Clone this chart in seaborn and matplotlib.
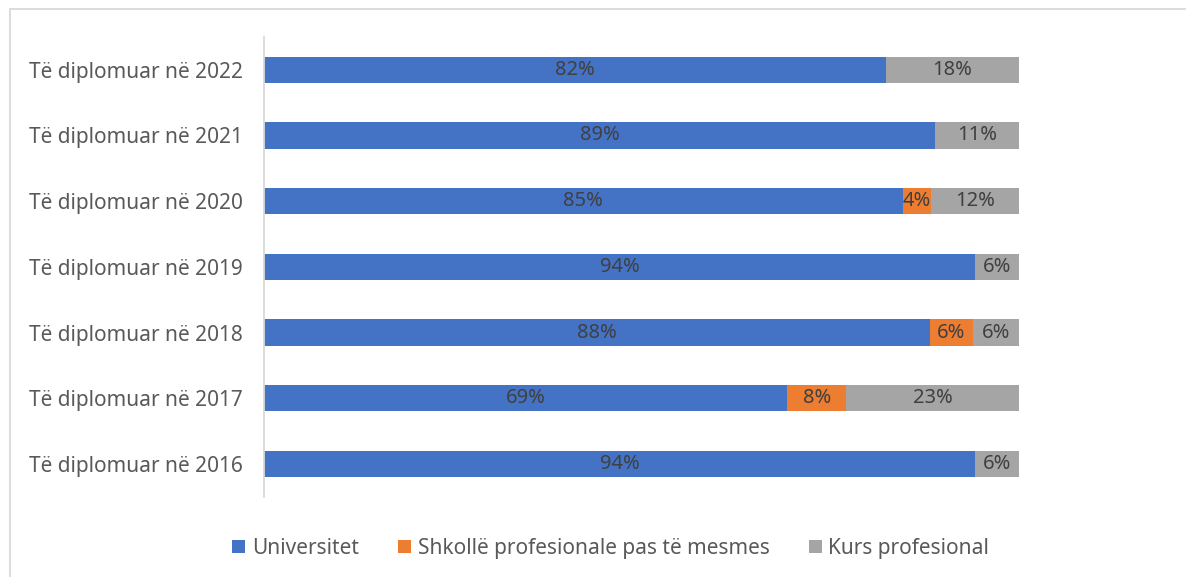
import numpy as np
import pandas as pd
import matplotlib
matplotlib.use('Agg')
import matplotlib.pyplot as plt
import seaborn as sns
from matplotlib.patches import Rectangle, Patch

# values (share of graduates, %)
years = ['Të diplomuar në 2022', 'Të diplomuar në 2021', 'Të diplomuar në 2020',
         'Të diplomuar në 2019', 'Të diplomuar në 2018', 'Të diplomuar në 2017',
         'Të diplomuar në 2016']
universitet = [82.4, 88.9, 84.6, 94.2, 88.2, 69.3, 94.2]
shkolle = [0, 0, 3.8, 0, 5.7, 7.8, 0]
kurs = [17.6, 11.1, 11.6, 5.8, 6.1, 22.9, 5.8]
series_names = ['Universitet', 'Shkollë profesionale pas të mesmes', 'Kurs profesional']

colors = ['#4472C4', '#ED7D31', '#A5A5A5']

sns.set_style('white')
plt.rcParams['font.family'] = ['Noto Sans', 'DejaVu Sans']

df = pd.DataFrame({'year': years, 'u': universitet, 's': shkolle, 'k': kurs})
df['c1'] = df['u']
df['c2'] = df['u'] + df['s']
df['c3'] = df['u'] + df['s'] + df['k']

fig = plt.figure(figsize=(11.86, 5.77), dpi=100)
ax = fig.add_axes([0.2226, 0.139, 0.6366, 0.797])

# stacked bars drawn as overlapping cumulative totals
for col, c in zip(['c3', 'c2', 'c1'], colors[::-1]):
    sns.barplot(data=df, x=col, y='year', color=c, width=0.4, ax=ax,
                orient='h', saturation=1, linewidth=0)

# segment labels
for i, row in df.iterrows():
    starts = [0, row['u'], row['u'] + row['s']]
    for v, s0 in zip([row['u'], row['s'], row['k']], starts):
        if v > 0:
            ax.text(s0 + v / 2, i, f'{round(v):.0f}%', ha='center', va='center',
                    fontsize=14.5, color='#404040')

ax.set_xlim(0, 100)
ax.set_ylim(6.5, -0.5)
ax.set_xlabel('')
ax.set_ylabel('')
ax.set_xticks([])
ax.tick_params(axis='y', length=0, pad=15, labelsize=15, labelcolor='#595959')
for s in ['top', 'right', 'bottom']:
    ax.spines[s].set_visible(False)
ax.spines['left'].set_color('#d9d9d9')
ax.spines['left'].set_linewidth(1.3)

handles = [Patch(facecolor=c, edgecolor='none') for c in colors]
fig.legend(handles, series_names, loc='center', bbox_to_anchor=(0.515, 0.05),
           ncol=3, frameon=False, fontsize=15, handlelength=0.6, handleheight=0.6,
           handletextpad=0.33, columnspacing=1.9, labelcolor='#595959')

# chart area frame (left and top visible)
fig.patches.append(Rectangle((10 / 1186, -0.1), 1.1, 1 - 9 / 577 + 0.1,
                             transform=fig.transFigure, fill=False,
                             edgecolor='#d9d9d9', linewidth=1.3))

fig.savefig('out.png', dpi=100)
